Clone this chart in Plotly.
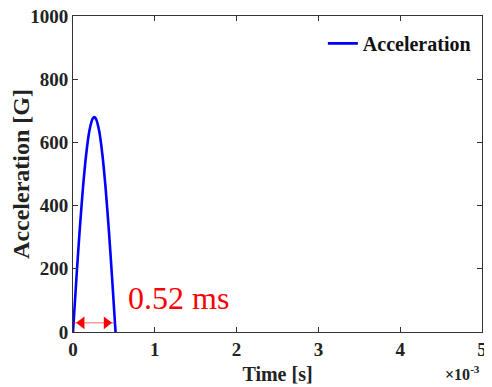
import plotly.graph_objects as go

# Data (time in ms, i.e. x10^-3 s; acceleration in G)
time_ms = [0.0, 0.04, 0.08, 0.12, 0.16, 0.20, 0.24, 0.26, 0.28, 0.32, 0.36, 0.40, 0.44, 0.48, 0.52]
accel_g = [0, 163, 316, 451, 560, 636, 675, 680, 675, 636, 560, 451, 316, 163, 0]

x_ticks = [0, 1, 2, 3, 4, 5]
y_ticks = [0, 200, 400, 600, 800, 1000]

duration_label = "0.52 ms"
arrow_y = 29
arrow_left_x = 0.106
arrow_right_x = 0.41
span_start = 0.0
span_end = 0.52

red = "#ff0000"
serif = "Liberation Serif, Times New Roman, serif"

fig = go.Figure()
fig.add_trace(go.Scatter(
    x=time_ms, y=accel_g, mode="lines", name="<b>Acceleration</b>",
    line=dict(color="#0000ff", width=2.6, shape="spline", smoothing=0.6),
))
fig.add_trace(go.Scatter(
    x=[span_start, span_end], y=[arrow_y, arrow_y], mode="lines",
    line=dict(color=red, width=0.6), showlegend=False, hoverinfo="skip",
))
fig.add_trace(go.Scatter(
    x=[arrow_left_x], y=[arrow_y], mode="markers",
    marker=dict(symbol="triangle-left", size=11, color=red),
    showlegend=False, hoverinfo="skip",
))
fig.add_trace(go.Scatter(
    x=[arrow_right_x], y=[arrow_y], mode="markers",
    marker=dict(symbol="triangle-right", size=11, color=red),
    showlegend=False, hoverinfo="skip",
))

fig.add_annotation(
    x=1.29, y=109, xref="x", yref="y", text=duration_label, showarrow=False,
    font=dict(family=serif, size=32, color=red),
)
fig.add_annotation(
    x=1.0, y=-0.168, xref="paper", yref="paper", xanchor="right", yanchor="bottom",
    text="<b>×10<sup>-3</sup></b>", showarrow=False,
    font=dict(family=serif, size=16, color="#222222"),
)

axis_common = dict(
    showline=True, linecolor="#333333", linewidth=1, mirror="ticks",
    ticks="inside", ticklen=5, tickcolor="#333333", showgrid=False, zeroline=False,
    automargin=False, ticklabeloverflow="allow",
    tickfont=dict(family=serif, size=19, color="#222222"),
)

fig.update_layout(
    width=484, height=379,
    margin=dict(l=65, r=10, t=8, b=55),
    paper_bgcolor="white", plot_bgcolor="white",
    xaxis=dict(range=[0, 5], tickvals=x_ticks, ticktext=[f"<b>{v}</b>" for v in x_ticks],
               title=dict(text="<b>Time [s]</b>", font=dict(family=serif, size=20, color="#222222"),
                          standoff=8),
               **axis_common),
    yaxis=dict(range=[0, 1000], tickvals=y_ticks, ticktext=[f"<b>{v}</b>" for v in y_ticks],
               title=dict(text="<b>Acceleration [G]</b>", font=dict(family=serif, size=24, color="#222222"),
                          standoff=3),
               **axis_common),
    legend=dict(x=0.985, y=0.975, xanchor="right", yanchor="top",
                bgcolor="rgba(0,0,0,0)", borderwidth=0,
                font=dict(family=serif, size=20, color="#111111")),
    showlegend=True,
)

fig.write_html("out.html")
